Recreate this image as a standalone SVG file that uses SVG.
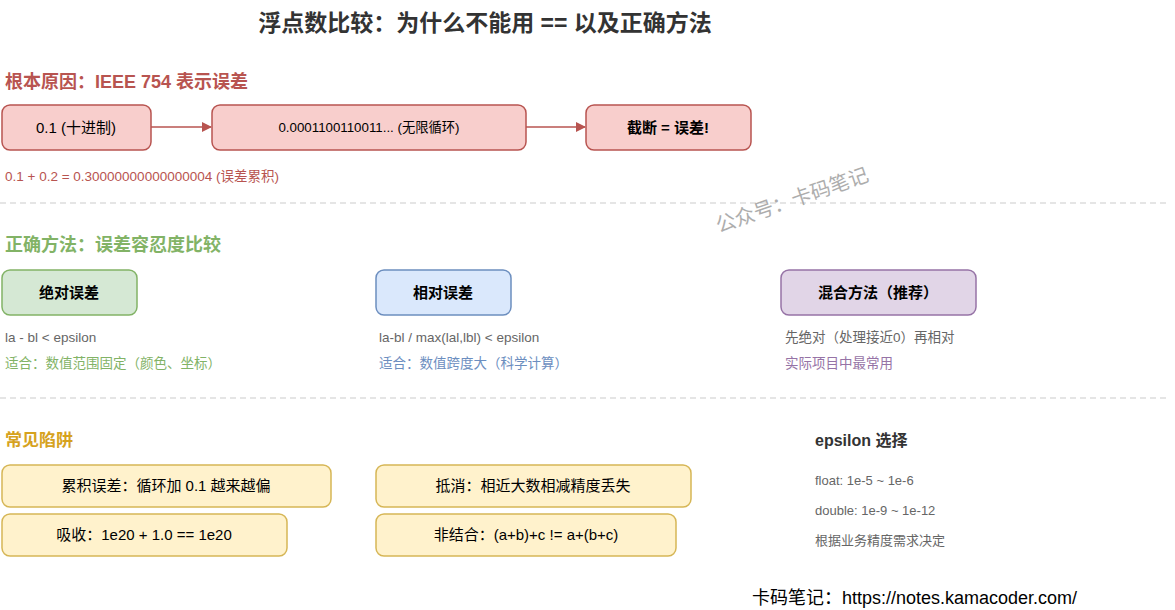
<svg xmlns="http://www.w3.org/2000/svg" width="1175" height="610" viewBox="0 0 1175 610">
<style>
text{font-family:"Liberation Sans","Noto Sans CJK SC",sans-serif}
.t{font-size:23px;font-weight:bold;fill:#333}
.h{font-size:18px;font-weight:bold}
.red{fill:#f8cecc;stroke:#b85450;stroke-width:1.5}
.grn{fill:#d5e8d4;stroke:#82b366;stroke-width:1.5}
.blu{fill:#dae8fc;stroke:#6c8ebf;stroke-width:1.5}
.pur{fill:#e1d5e7;stroke:#9673a6;stroke-width:1.5}
.yel{fill:#fff2cc;stroke:#d6b656;stroke-width:1.5}
.bt{font-size:15px;fill:#000;text-anchor:middle}
.bb{font-size:15px;font-weight:bold;fill:#000;text-anchor:middle}
.s{font-size:13.5px;fill:#666}
.dash{stroke:#ccc;stroke-width:1.2;stroke-dasharray:6 4}
</style>
<defs>
<marker id="ah" viewBox="0 0 10 10" refX="9" refY="5" markerWidth="10" markerHeight="10" markerUnits="userSpaceOnUse" orient="auto"><path d="M0,0L10,5L0,10z" fill="#b85450"/></marker>
</defs>
<text class="t" x="485" y="31" text-anchor="middle">浮点数比较：为什么不能用 == 以及正确方法</text>

<text class="h" x="5" y="88" fill="#b85450">根本原因：IEEE 754 表示误差</text>
<g id="n1"><rect class="red" x="2" y="105" width="149" height="45" rx="8"/><text class="bt" x="76" y="133">0.1 (十进制)</text></g>
<g id="n2"><rect class="red" x="212" y="105" width="314" height="45" rx="8"/><text class="bt" x="369" y="132" style="font-size:13.3px">0.0001100110011... (无限循环)</text></g>
<g id="n3"><rect class="red" x="586" y="105" width="165" height="45" rx="8"/><text class="bb" x="668" y="133">截断 = 误差!</text></g>
<g id="edges" stroke="#b85450" stroke-width="1.5" fill="none">
<line x1="151" y1="127" x2="211" y2="127" marker-end="url(#ah)"/>
<line x1="526" y1="127" x2="585" y2="127" marker-end="url(#ah)"/>
</g>
<text x="5" y="181" font-size="13.5" fill="#b85450">0.1 + 0.2 = 0.30000000000000004 (误差累积)</text>

<line class="dash" x1="0" y1="203" x2="1167" y2="203"/>
<text x="792" y="207" font-size="20" fill="#999" opacity="0.8" text-anchor="middle" transform="rotate(-19 792 200)">公众号：卡码笔记</text>

<text class="h" x="5" y="251" fill="#82b366">正确方法：误差容忍度比较</text>
<g id="abs"><rect class="grn" x="2" y="270" width="135" height="45" rx="8"/><text class="bb" x="69" y="298">绝对误差</text></g>
<g id="rel"><rect class="blu" x="376" y="270" width="135" height="45" rx="8"/><text class="bb" x="443" y="298">相对误差</text></g>
<g id="mix"><rect class="pur" x="781" y="270" width="195" height="45" rx="8"/><text class="bb" x="878" y="298">混合方法（推荐）</text></g>
<text class="s" x="5" y="342">la - bl &lt; epsilon</text>
<text x="5" y="368" font-size="13.5" fill="#82b366">适合：数值范围固定（颜色、坐标）</text>
<text class="s" x="379" y="342">la-bl / max(lal,lbl) &lt; epsilon</text>
<text x="379" y="368" font-size="13.5" fill="#6c8ebf">适合：数值跨度大（科学计算）</text>
<text class="s" x="785" y="342">先绝对（处理接近0）再相对</text>
<text x="785" y="368" font-size="13.5" fill="#9673a6">实际项目中最常用</text>

<line class="dash" x1="0" y1="398" x2="1167" y2="398"/>

<text x="5" y="446" font-size="17" font-weight="bold" fill="#d6a21e">常见陷阱</text>
<g id="p1"><rect class="yel" x="2" y="465" width="329" height="42" rx="8"/><text class="bt" x="166" y="491">累积误差：循环加 0.1 越来越偏</text></g>
<g id="p2"><rect class="yel" x="2" y="514" width="285" height="42" rx="8"/><text class="bt" x="144" y="540">吸收：1e20 + 1.0 == 1e20</text></g>
<g id="p3"><rect class="yel" x="376" y="465" width="315" height="42" rx="8"/><text class="bt" x="533" y="491">抵消：相近大数相减精度丢失</text></g>
<g id="p4"><rect class="yel" x="376" y="514" width="300" height="42" rx="8"/><text class="bt" x="526" y="540">非结合：(a+b)+c != a+(b+c)</text></g>

<text x="815" y="446" font-size="16" font-weight="bold" fill="#333">epsilon 选择</text>
<text x="815" y="485" font-size="13" fill="#666">float: 1e-5 ~ 1e-6</text>
<text x="815" y="515" font-size="13" fill="#666">double: 1e-9 ~ 1e-12</text>
<text x="815" y="545" font-size="13" fill="#666">根据业务精度需求决定</text>

<text x="752" y="604" font-size="18" fill="#000">卡码笔记：https://notes.kamacoder.com/</text>
</svg>
